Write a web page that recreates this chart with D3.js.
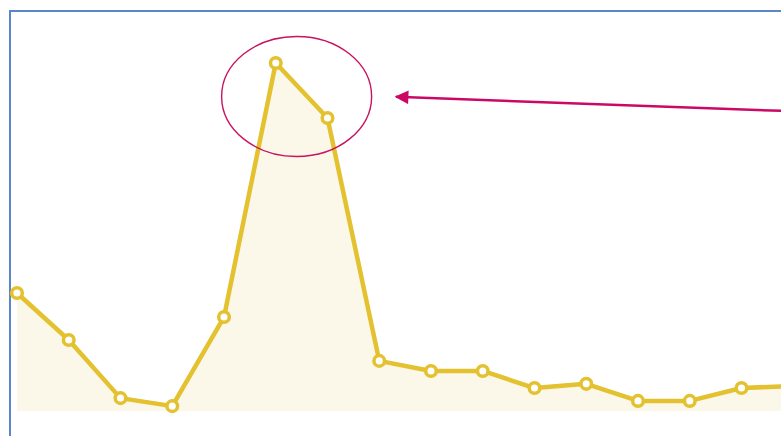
<!DOCTYPE html>
<html>
<head>
<meta charset="utf-8">
<script src="https://cdn.jsdelivr.net/npm/d3@7"></script>
<style>
  html, body { margin: 0; padding: 0; background: #fff; overflow: hidden; }
</style>
</head>
<body>
<div id="chart"></div>
<script>
// Chart data (peak = 100)
var categories = ["1", "2", "3", "4", "5", "6", "7", "8", "9", "10", "11", "12", "13", "14", "15", "16"];
var values = [33.9, 20.4, 3.7, 1.4, 27, 100, 84.2, 14.4, 11.5, 11.5, 6.6, 7.8, 2.9, 2.9, 6.6, 7.2];
// Highlighted points (circled) and callout
var highlight = ["6", "7"];

var svgWidth = 781;
var svgHeight = 436;

var svg = d3.select("#chart")
  .append("svg")
  .attr("width", svgWidth)
  .attr("height", svgHeight);

// Blue frame, open at right and bottom
svg.append("path")
  .attr("d", "M10,440 L10,11 L790,11")
  .attr("fill", "none")
  .attr("stroke", "#5b87c8")
  .attr("stroke-width", 2);

var xScale = d3.scalePoint()
  .domain(categories)
  .range([17, 793.25]);

var yScale = d3.scaleLinear()
  .domain([0, 100])
  .range([411, 63]);

var data = categories.map((c, i) => ({ cat: c, value: values[i] }));

// Area under the line
var area = d3.area()
  .x(d => xScale(d.cat))
  .y0(yScale(0))
  .y1(d => yScale(d.value));

svg.append("path")
  .datum(data)
  .attr("d", area)
  .attr("fill", "#fbf7e9");

// Line
var line = d3.line()
  .x(d => xScale(d.cat))
  .y(d => yScale(d.value));

svg.append("path")
  .datum(data)
  .attr("d", line)
  .attr("fill", "none")
  .attr("stroke", "#e3c12f")
  .attr("stroke-width", 4.5)
  .attr("stroke-linejoin", "round");

// Markers
svg.selectAll("circle.pt")
  .data(data)
  .enter()
  .append("circle")
  .attr("class", "pt")
  .attr("cx", d => xScale(d.cat))
  .attr("cy", d => yScale(d.value))
  .attr("r", 5.3)
  .attr("fill", "#fff")
  .attr("stroke", "#e3c12f")
  .attr("stroke-width", 3.5);

// Ellipse round the peak
var hx = highlight.map(c => xScale(c));
var hy = highlight.map(c => yScale(values[categories.indexOf(c)]));
var cx = (hx[0] + hx[1]) / 2 - 5;
var cy = (hy[0] + hy[1]) / 2 + 6;

svg.append("ellipse")
  .attr("cx", cx)
  .attr("cy", cy)
  .attr("rx", 75)
  .attr("ry", 60)
  .attr("fill", "none")
  .attr("stroke", "#c8135f")
  .attr("stroke-width", 1.4);

// Arrow pointing to the ellipse
svg.append("defs").append("marker")
  .attr("id", "head")
  .attr("viewBox", "0 0 10 10")
  .attr("refX", 9)
  .attr("refY", 5)
  .attr("markerWidth", 6)
  .attr("markerHeight", 5.5)
  .attr("markerUnits", "strokeWidth")
  .attr("orient", "auto")
  .append("path")
  .attr("d", "M0,0 L10,5 L0,10 Z")
  .attr("fill", "#cc0866");

svg.append("line")
  .attr("x1", 785)
  .attr("y1", 111)
  .attr("x2", 396)
  .attr("y2", 96.8)
  .attr("stroke", "#cc0866")
  .attr("stroke-width", 2.5)
  .attr("marker-end", "url(#head)");
</script>
</body>
</html>
